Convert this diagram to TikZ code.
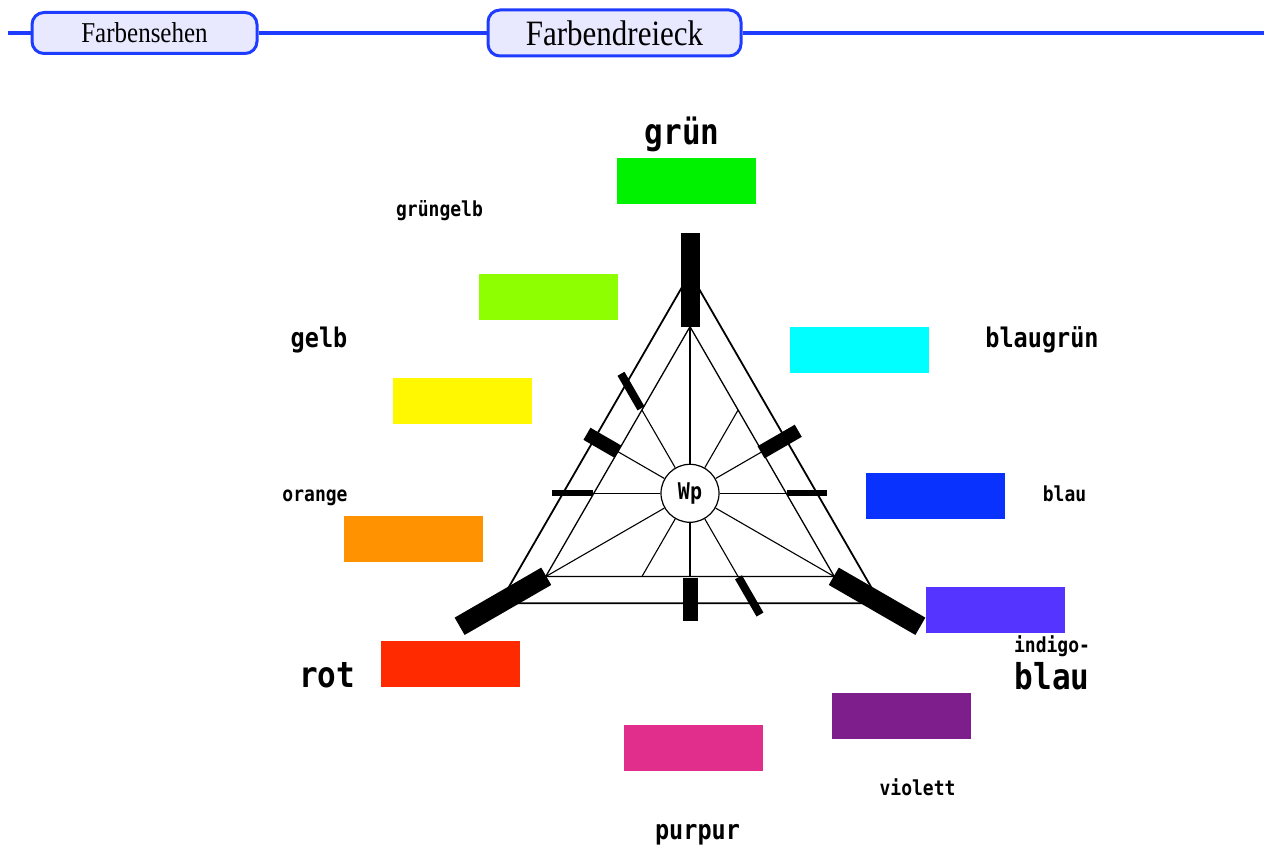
\documentclass[tikz,border=0pt]{standalone}
\usepackage{fontspec}
\setmainfont{Liberation Serif}
\newfontfamily\pixfont{DejaVu Sans Mono}
\usepackage{xcolor}
\usepackage{graphicx}
\usepackage{tikz}
\usetikzlibrary{positioning,calc}

\definecolor{hdrblue}{RGB}{30,60,255}
\definecolor{hdrfill}{RGB}{232,232,255}
\definecolor{cgruen}{RGB}{0,242,0}
\definecolor{cgruengelb}{RGB}{142,255,0}
\definecolor{cblaugruen}{RGB}{0,255,255}
\definecolor{cgelb}{RGB}{255,248,0}
\definecolor{cblau}{RGB}{10,50,255}
\definecolor{corange}{RGB}{255,146,0}
\definecolor{cindigo}{RGB}{85,52,255}
\definecolor{crot}{RGB}{255,42,0}
\definecolor{cviolett}{RGB}{126,30,140}
\definecolor{cpurpur}{RGB}{225,45,140}

\newcommand{\pixtext}[2]{\scalebox{1}[1.15]{\pixfont\bfseries\fontsize{#1}{#1}\selectfont #2}}
\newcommand{\tabtext}[2]{\scalebox{1}[1.15]{\fontsize{#1}{#1}\selectfont #2}}

\begin{document}
\begin{tikzpicture}[x=1pt, y=1pt,
    tab/.style={draw=hdrblue, line width=3pt, rounded corners=12pt, fill=hdrfill, inner sep=0pt},
    hline/.style={draw=hdrblue, line width=4.5pt},
    swatch/.style={minimum width=139pt, minimum height=46pt, inner sep=0pt},
    lbl/.style={anchor=base, inner sep=0pt},
    wlbar/.style={line width=#1, line cap=butt}]
    \useasboundingbox (0,0) rectangle (1264,848);

    % Header
    \coordinate (hstart) at (8,815);
    \coordinate (hend) at (1264,815);
    \node[tab, minimum width=225pt, minimum height=41pt] (sehen) at (144.5,815) {\tabtext{25}{Farbensehen}};
    \node[tab, minimum width=253pt, minimum height=46pt] (dreieck) at (614.5,815) {\tabtext{31}{Farbendreieck}};
    \draw[hline] (hstart) -- (sehen) (sehen) -- (dreieck) (dreieck) -- (hend);

    % Triangle
    \coordinate (C) at (690,354.7);
    \coordinate (ti1) at ($(C)+(90:166.6)$);
    \coordinate (ti2) at ($(C)+(210:166.6)$);
    \coordinate (ti3) at ($(C)+(330:166.6)$);
    \coordinate (to1) at ($(C)+(90:220)$);
    \coordinate (to2) at ($(C)+(210:220)$);
    \coordinate (to3) at ($(C)+(330:220)$);
    \draw[line width=1.8pt] (to1) -- (to2) -- (to3) -- cycle;
    \draw[line width=1.3pt] (ti1) -- (ti2) -- (ti3) -- cycle;

    % Wp and spokes
    \node[circle, draw, line width=1.2pt, minimum size=58pt, inner sep=0pt] (wp) at (C) {\pixtext{20}{Wp}};
    \foreach \a/\r in {0/127,30/83.3,60/96.2,90/166.6,120/96.2,150/83.3,180/127,210/166.6,240/96.2,270/83.3,300/96.2,330/166.6}
        \draw[line width=1.1pt] (wp.\a) -- ($(C)+(\a:\r)$);

    % Bars
    \foreach \a/\ra/\rb/\w in {90/166/260/19,120/98/138/8,150/83/119/14,180/97/138/6,210/166/266/20,270/85/128/15,300/97/140/8,330/166/266/20,0/97/137/6,30/82/125/14}
        \draw[wlbar=\w pt] ($(C)+(\a:\ra)$) -- ($(C)+(\a:\rb)$);

    % Colour fields
    \node[swatch, fill=cgruen] (fgruen) at (686.5,667) {};
    \node[swatch, fill=cgruengelb] (fgruengelb) at (548.5,551) {};
    \node[swatch, fill=cblaugruen] (fblaugruen) at (859.5,498) {};
    \node[swatch, fill=cgelb] (fgelb) at (462.5,447) {};
    \node[swatch, fill=cblau] (fblau) at (935.5,352) {};
    \node[swatch, fill=corange] (forange) at (413.5,309) {};
    \node[swatch, fill=cindigo] (findigo) at (995.5,238) {};
    \node[swatch, fill=crot] (frot) at (450.5,184) {};
    \node[swatch, fill=cviolett] (fviolett) at (901.5,132) {};
    \node[swatch, fill=cpurpur] (fpurpur) at (693.5,100) {};

    % Labels
    \node[lbl] (lgruen) at (682,703) {\pixtext{31}{grün}};
    \node[lbl] (lgruengelb) at (439.5,631) {\pixtext{18}{grüngelb}};
    \node[lbl] (lgelb) at (319,500) {\pixtext{23.5}{gelb}};
    \node[lbl] (lblaugruen) at (1042,500) {\pixtext{23.5}{blaugrün}};
    \node[lbl] (lorange) at (315,346) {\pixtext{18}{orange}};
    \node[lbl] (lblau) at (1064.5,346) {\pixtext{18}{blau}};
    \node[lbl] (lrot) at (327,160) {\pixtext{31}{rot}};
    \node[lbl] (lindigo) at (1052,195) {\pixtext{18}{indigo-}};
    \node[lbl] (lindigoblau) at (1052,158) {\pixtext{31}{blau}};
    \node[lbl] (lviolett) at (917.5,52) {\pixtext{18}{violett}};
    \node[lbl] (lpurpur) at (697.5,8) {\pixtext{23.5}{purpur}};
\end{tikzpicture}
\end{document}
